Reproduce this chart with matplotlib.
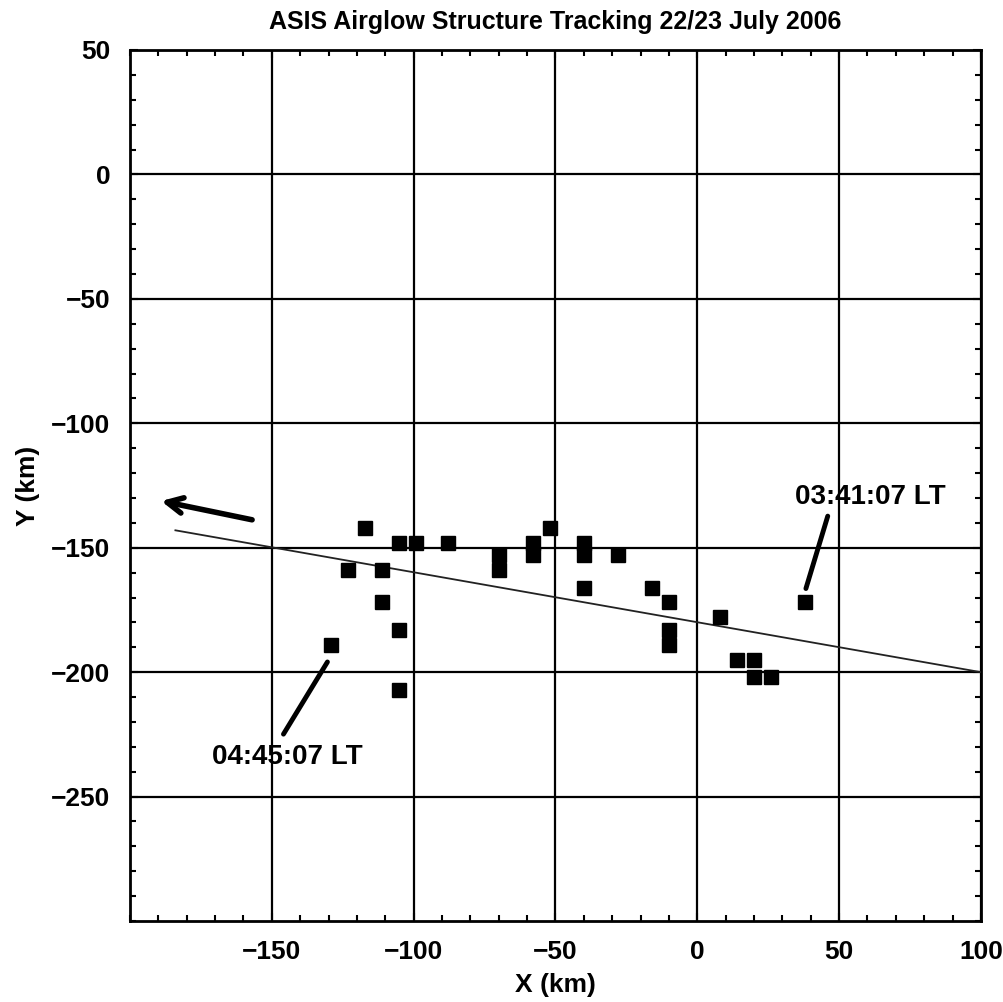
import matplotlib
matplotlib.use("Agg")
from matplotlib import pyplot as plt
from matplotlib.ticker import MultipleLocator

# structure positions (km)
track_x = [-117, -105, -99, -123, -111, -111, -105, -129, -105, -88,
           -70, -70, -58, -58, -52, -40, -40, -40, -28, -16,
           -10, -10, -10, 8, 14, 20, 20, 26, 38]
track_y = [-142, -148, -148, -159, -159, -172, -183, -189, -207, -148,
           -153, -159, -148, -153, -142, -148, -153, -166, -153, -166,
           -172, -183, -189, -178, -195, -195, -202, -202, -172]

# fitted track line
fit_x = [-184, 100]
fit_y = [-143, -200]

# motion direction arrow (tail, head)
arrow_tail = (-156, -139)
arrow_head = (-190, -131)

first_label = "03:41:07 LT"
last_label = "04:45:07 LT"

plt.rcParams['font.family'] = ['Liberation Sans', 'DejaVu Sans']

fig = plt.figure(figsize=(10.04, 10.02), dpi=100)
ax = fig.add_axes([0.1295, 0.0808, 0.8475, 0.8693])

ax.plot(fit_x, fit_y, '-', color='#222222', lw=1.3, zorder=3)
ax.plot(track_x, track_y, 's', ms=9.5, color='k', zorder=4)

ax.annotate('', xy=arrow_head, xytext=arrow_tail,
            arrowprops=dict(arrowstyle='->', lw=4, color='k', mutation_scale=28))

# labels for first and last positions
ax.plot([46, 38.3], [-137.3, -166.4], '-', color='k', lw=3.5, solid_capstyle='round')
ax.text(61, -129.6, first_label, fontsize=20, fontweight='bold', ha='center', va='center')
ax.plot([-130.4, -145.9], [-195.9, -224.9], '-', color='k', lw=3.5, solid_capstyle='round')
ax.text(-144.4, -234, last_label, fontsize=20, fontweight='bold', ha='center', va='center')

ax.set_xlim(-200, 100)
ax.set_ylim(-300, 50)
ax.set_xticks([-150, -100, -50, 0, 50, 100])
ax.set_yticks([50, 0, -50, -100, -150, -200, -250])
ax.xaxis.set_minor_locator(MultipleLocator(10))
ax.yaxis.set_minor_locator(MultipleLocator(10))
ax.grid(True, which='major', color='k', lw=1.6)
ax.tick_params(which='both', direction='in', top=True, right=True, labelsize=19, width=1.5)
ax.tick_params(which='major', length=6, pad=14)
ax.tick_params(which='minor', length=4)
for lab in ax.get_xticklabels() + ax.get_yticklabels():
    lab.set_fontweight('bold')
for s in ax.spines.values():
    s.set_linewidth(2)

ax.set_xlabel('X (km)', fontsize=19, fontweight='bold', labelpad=6)
ax.set_ylabel('Y (km)', fontsize=19, fontweight='bold', labelpad=8)
ax.set_title('ASIS Airglow Structure Tracking 22/23 July 2006', fontsize=18,
             fontweight='bold', pad=15)

fig.savefig('out.png', dpi=100)
